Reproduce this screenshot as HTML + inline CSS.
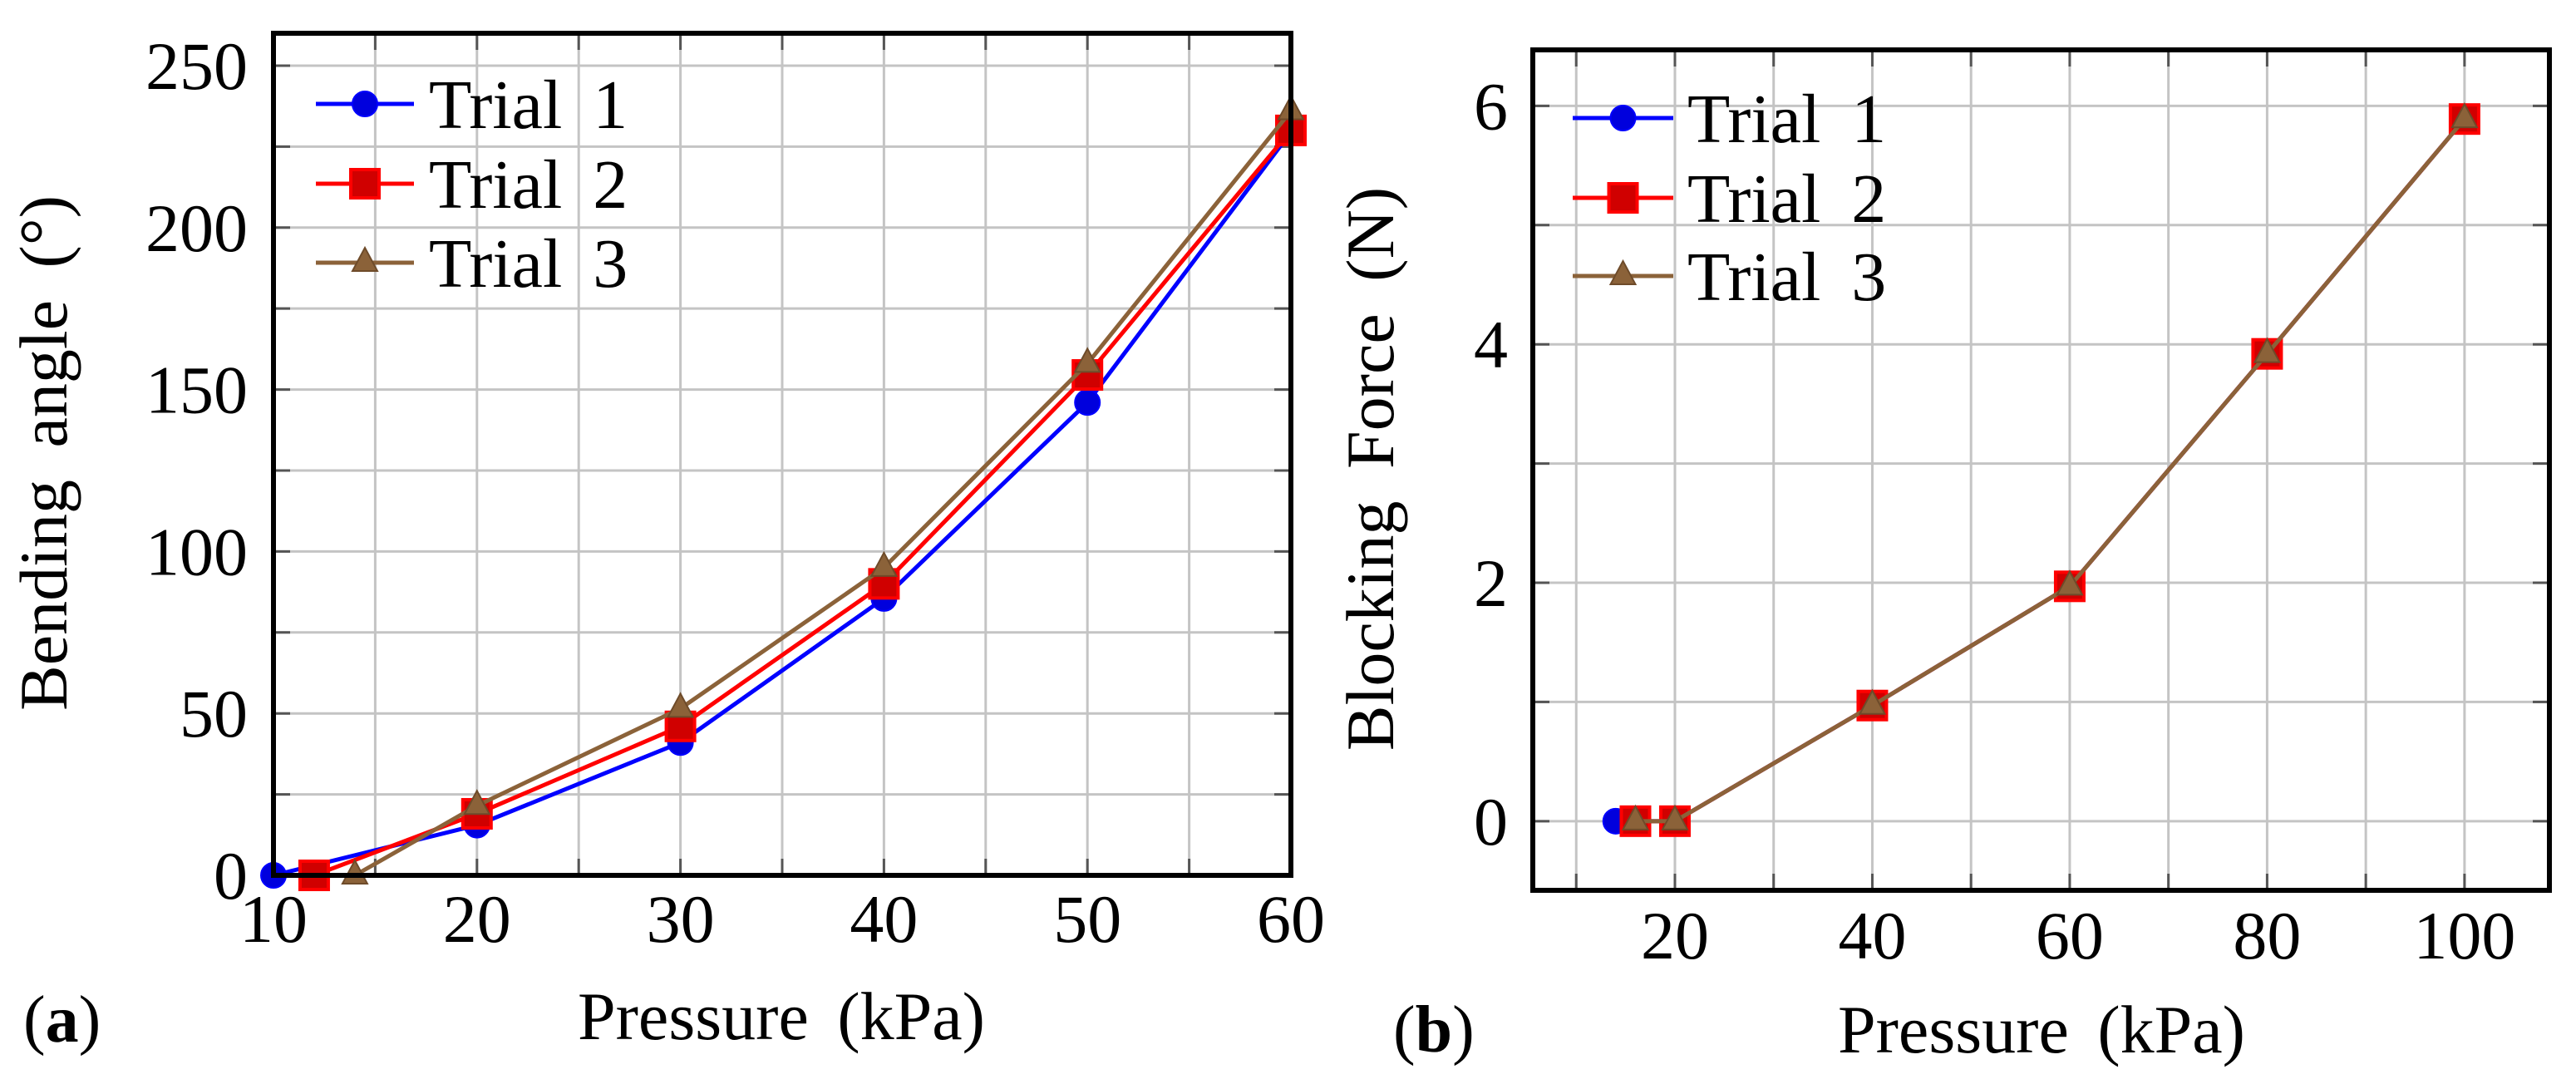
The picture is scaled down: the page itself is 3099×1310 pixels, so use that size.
<!DOCTYPE html>
<html><head><meta charset="utf-8">
<style>
html,body{margin:0;padding:0;background:#fff;}
svg{display:block;}
text{font-family:"Liberation Serif",serif;fill:#000;}
</style></head>
<body>
<svg id="fig" width="3099" height="1310" viewBox="0 0 3099 1310" xmlns="http://www.w3.org/2000/svg">
<g id="pa"></g>
<g id="pb"></g>
</svg>
<script>
// Panel (a) data
const aX1 = [10, 20, 30, 40, 50, 60];
const aY1 = [0, 15.5, 41, 85.5, 146, 229.5];
const aX2 = [12, 20, 30, 40, 50, 60];
const aY2 = [0, 19, 46, 90, 154.5, 230];
const aX3 = [14, 20, 30, 40, 50, 60];
const aY3 = [0, 21.5, 51.5, 95, 158, 236];
const aXTicks = [10, 20, 30, 40, 50, 60];
const aYTicks = [0, 50, 100, 150, 200, 250];
// Panel (b) data
const bX1 = [14, 16, 20, 40, 60, 80, 100];
const bY1 = [0, 0, 0, 0.97, 1.97, 3.92, 5.89];
const bX2 = [16, 20, 40, 60, 80, 100];
const bY2 = [0, 0, 0.97, 1.97, 3.92, 5.89];
const bX3 = [16, 20, 40, 60, 80, 100];
const bY3 = [0, 0, 0.97, 1.97, 3.92, 5.89];
const bXTicks = [20, 40, 60, 80, 100];
const bYTicks = [0, 2, 4, 6];
const legendLabels = ["Trial 1", "Trial 2", "Trial 3"];

const NS = "http://www.w3.org/2000/svg";
const STROKES = ["#0000ff", "#ff0000", "#8b6239"];

function mk(parent, tag, attrs) {
  const e = document.createElementNS(NS, tag);
  for (const k in attrs) e.setAttribute(k, attrs[k]);
  parent.appendChild(e);
  return e;
}

function marker(g, kind, cx, cy) {
  let m;
  if (kind === 0) {
    m = mk(g, "circle", {cx: cx, cy: cy, r: 15, fill: "#0000dd", stroke: "#0000ff", "stroke-width": 2});
  } else if (kind === 1) {
    m = mk(g, "rect", {x: cx - 17, y: cy - 17, width: 34, height: 34, fill: "#d00000", stroke: "#ff0000", "stroke-width": 4});
  } else {
    m = mk(g, "polygon", {points: (cx - 15) + "," + (cy + 10) + " " + (cx + 15) + "," + (cy + 10) + " " + cx + "," + (cy - 18), fill: "#8b6239", stroke: "#6e4b2a", "stroke-width": 2});
  }
  return m;
}

function panel(g, cfg) {
  const sx = v => cfg.L + (v - cfg.xmin) / (cfg.xmax - cfg.xmin) * (cfg.R - cfg.L);
  const sy = v => cfg.B - (v - cfg.ymin) / (cfg.ymax - cfg.ymin) * (cfg.B - cfg.T);
  const grid = mk(g, "g", {});
  
  
  for (const v of cfg.xGrid) {
    const x = sx(v);
    const ln = mk(grid, "line", {x1: x, y1: cfg.T, x2: x, y2: cfg.B, stroke: "#c4c4c4", "stroke-width": 3});
    
    
    mk(grid, "line", {x1: x, y1: cfg.T, x2: x, y2: cfg.T + 20, stroke: "#555", "stroke-width": 3});
    mk(grid, "line", {x1: x, y1: cfg.B, x2: x, y2: cfg.B - 20, stroke: "#555", "stroke-width": 3});
  }
  for (const v of cfg.yGrid) {
    const y = sy(v);
    const ln = mk(grid, "line", {x1: cfg.L, y1: y, x2: cfg.R, y2: y, stroke: "#c4c4c4", "stroke-width": 3});
    
    
    mk(grid, "line", {x1: cfg.L, y1: y, x2: cfg.L + 20, y2: y, stroke: "#555", "stroke-width": 3});
    mk(grid, "line", {x1: cfg.R, y1: y, x2: cfg.R - 20, y2: y, stroke: "#555", "stroke-width": 3});
  }
  cfg.series.forEach((s, i) => {
    const sg = mk(g, "g", {});
    
    
    const pts = s.x.map((xv, j) => sx(xv) + "," + sy(s.y[j])).join(" ");
    const pl = mk(sg, "polyline", {points: pts, fill: "none", stroke: STROKES[i], "stroke-width": 5, "stroke-linejoin": "round"});
    
    
    s.x.forEach((xv, j) => {
      const m = marker(sg, i, sx(xv), sy(s.y[j]));
      
      
    });
  });
  const fr = mk(g, "rect", {x: cfg.L, y: cfg.T, width: cfg.R - cfg.L, height: cfg.B - cfg.T, fill: "none", stroke: "#000", "stroke-width": 6});
  
  
  for (const v of cfg.xTicks) {
    const t = mk(g, "text", {x: sx(v), y: cfg.xLabY, "font-size": 82, "text-anchor": "middle"});
    t.textContent = String(v);
    
    
  }
  for (const v of cfg.yTicks) {
    const t = mk(g, "text", {x: cfg.yLabX, y: sy(v) + 28, "font-size": 82, "text-anchor": "end"});
    t.textContent = String(v);
    
    
  }
  const xt = mk(g, "text", {x: cfg.xTitleX, y: cfg.xTitleY, "font-size": 82, "text-anchor": "middle", "word-spacing": 14});
  xt.textContent = "Pressure (kPa)";
  
  
  const yt = mk(g, "text", {x: 0, y: 0, "font-size": 82, "text-anchor": "middle", "word-spacing": 18,
    transform: "translate(" + cfg.yTitleX + "," + cfg.yTitleY + ") rotate(-90)"});
  yt.textContent = cfg.yTitle;
  
  
  const pl = mk(g, "text", {x: cfg.tagX, y: cfg.tagY, "font-size": 80});
  pl.innerHTML = '(<tspan font-weight="bold">' + cfg.tag + '</tspan>)';
  
  
  const lg = mk(g, "g", {});
  
  
  legendLabels.forEach((lab, i) => {
    const y = cfg.legY[i];
    const e = mk(lg, "g", {});
    
    
    mk(e, "line", {x1: cfg.legX1, y1: y, x2: cfg.legX2, y2: y, stroke: STROKES[i], "stroke-width": 5});
    marker(e, i, (cfg.legX1 + cfg.legX2) / 2, y);
    const t = mk(e, "text", {x: cfg.legTX, y: y + 29, "font-size": 84, "word-spacing": 16});
    t.textContent = lab;
  });
}

panel(document.getElementById("pa"), {
  L: 329, R: 1553, T: 40, B: 1053, xmin: 10, xmax: 60, ymin: 0, ymax: 260,
  xGrid: [15, 20, 25, 30, 35, 40, 45, 50, 55], yGrid: [25, 50, 75, 100, 125, 150, 175, 200, 225, 250],
  xTicks: aXTicks, yTicks: aYTicks,
  series: [{x: aX1, y: aY1}, {x: aX2, y: aY2}, {x: aX3, y: aY3}],
  xLabY: 1133, yLabX: 298, xTitleX: 940, xTitleY: 1250,
  yTitle: "Bending angle (°)", yTitleX: 80, yTitleY: 545,
  tag: "a", tagX: 28, tagY: 1253,
  legX1: 380, legX2: 498, legTX: 516, legY: [125, 221, 316]
});
panel(document.getElementById("pb"), {
  L: 1844, R: 3067, T: 60, B: 1071, xmin: 5.6, xmax: 108.6, ymin: -0.58, ymax: 6.47,
  xGrid: [10, 20, 30, 40, 50, 60, 70, 80, 90, 100], yGrid: [0, 1, 2, 3, 4, 5, 6],
  xTicks: bXTicks, yTicks: bYTicks,
  series: [{x: bX1, y: bY1}, {x: bX2, y: bY2}, {x: bX3, y: bY3}],
  xLabY: 1153, yLabX: 1814, xTitleX: 2456, xTitleY: 1266,
  yTitle: "Blocking Force (N)", yTitleX: 1676, yTitleY: 564,
  tag: "b", tagX: 1676, tagY: 1265,
  legX1: 1892, legX2: 2013, legTX: 2030, legY: [142, 238, 332]
});
</script>
</body></html>
